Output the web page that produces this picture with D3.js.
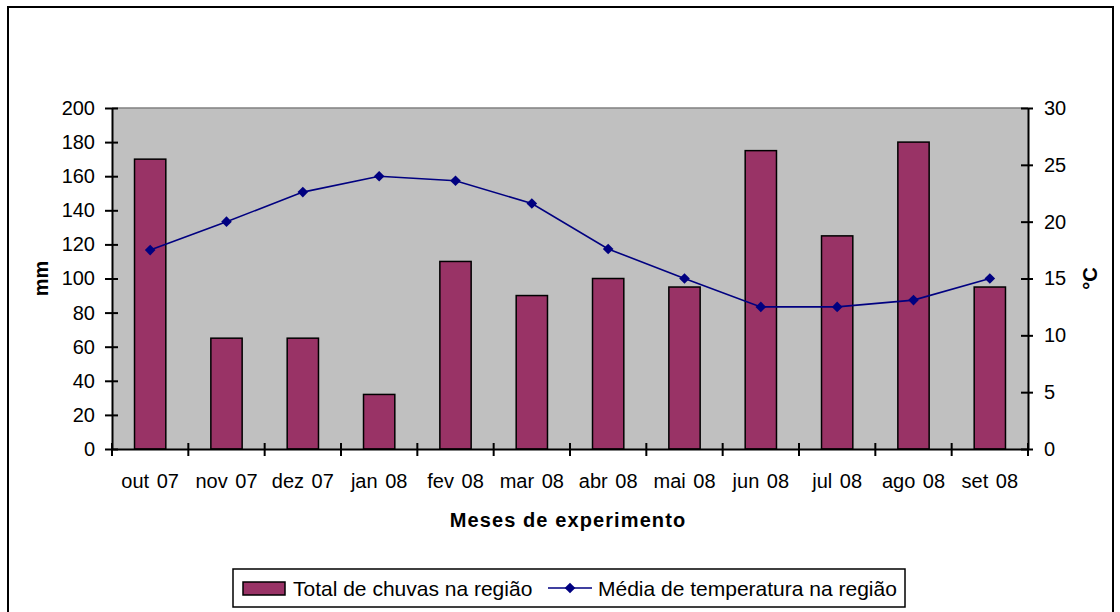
<!DOCTYPE html>
<html>
<head>
<meta charset="utf-8">
<script src="https://cdn.jsdelivr.net/npm/d3@7"></script>
<style>
  body { margin: 0; background: #fff; }
  svg { display: block; font-family: "Liberation Sans", Arial, sans-serif; }
</style>
</head>
<body>
<svg id="chart" width="1120" height="612"></svg>
<script>
const months = ["out 07", "nov 07", "dez 07", "jan 08", "fev 08", "mar 08",
  "abr 08", "mai 08", "jun 08", "jul 08", "ago 08", "set 08"];
const rainfall = [170, 65, 65, 32, 110, 90, 100, 95, 175, 125, 180, 95];
const temperature = [17.5, 20, 22.6, 24, 23.6, 21.6, 17.6, 15, 12.5, 12.5, 13.1, 15];
const mmTicks = d3.range(0, 201, 20);
const cTicks = d3.range(0, 31, 5);

const svg = d3.select("#chart");
const plot = { left: 112, right: 1028, top: 108, bottom: 449 };
const fs = 20;

// outer chart border
svg.append("rect")
  .attr("x", 8).attr("y", 7)
  .attr("width", 1105).attr("height", 640)
  .attr("fill", "#fff").attr("stroke", "#000").attr("stroke-width", 2);

const xb = d3.scaleBand().domain(months).range([plot.left, plot.right]);
const barW = xb.bandwidth() * 0.41;
const yL = d3.scaleLinear().domain([0, 200]).range([plot.bottom, plot.top]);
const yR = d3.scaleLinear().domain([0, 30]).range([plot.bottom, plot.top]);
const cx = m => xb(m) + xb.bandwidth() / 2;

svg.append("rect")
  .attr("x", plot.left).attr("y", plot.top)
  .attr("width", plot.right - plot.left).attr("height", plot.bottom - plot.top)
  .attr("fill", "#c0c0c0");
svg.append("line")
  .attr("x1", plot.left).attr("x2", plot.right)
  .attr("y1", plot.top).attr("y2", plot.top)
  .attr("stroke", "#808080").attr("stroke-width", 1.5);

// bars
svg.append("g").selectAll("rect")
  .data(rainfall)
  .join("rect")
  .attr("x", (d, i) => cx(months[i]) - barW / 2)
  .attr("y", d => yL(d))
  .attr("width", barW)
  .attr("height", d => yL(0) - yL(d))
  .attr("fill", "#993366")
  .attr("stroke", "#000")
  .attr("stroke-width", 1.5);

// temperature line
const lineGen = d3.line()
  .x((d, i) => cx(months[i]))
  .y(d => yR(d));
svg.append("path")
  .datum(temperature)
  .attr("d", lineGen)
  .attr("fill", "none")
  .attr("stroke", "#000080")
  .attr("stroke-width", 1.6);
const diamond = d3.symbol().type(d3.symbolDiamond2).size(72);
svg.append("g").selectAll("path")
  .data(temperature)
  .join("path")
  .attr("transform", (d, i) => "translate(" + cx(months[i]) + "," + yR(d) + ")")
  .attr("d", diamond)
  .attr("fill", "#000080");

// axes
function styleAxis(g) {
  g.selectAll("path.domain").attr("stroke", "#000").attr("stroke-width", 2);
  g.selectAll(".tick line").attr("stroke", "#000").attr("stroke-width", 2);
  g.selectAll("text").attr("font-size", fs).attr("fill", "#000")
    .attr("font-family", "'Liberation Sans', Arial, sans-serif");
}

const gl = svg.append("g").attr("transform", "translate(" + plot.left + ",0)")
  .call(d3.axisLeft(yL).tickValues(mmTicks).tickSizeInner(7).tickSizeOuter(0).tickPadding(10));
gl.selectAll(".tick line").attr("x2", -7).attr("x1", 6);
styleAxis(gl);

const gr = svg.append("g").attr("transform", "translate(" + plot.right + ",0)")
  .call(d3.axisRight(yR).tickValues(cTicks).tickSizeInner(5).tickSizeOuter(0).tickPadding(11));
gr.selectAll(".tick line").attr("x1", -7).attr("x2", 5);
styleAxis(gr);

const gb = svg.append("g").attr("transform", "translate(0," + plot.bottom + ")")
  .call(d3.axisBottom(xb).tickSize(0).tickPadding(25));
styleAxis(gb);
gb.selectAll(".tick line").remove();
gb.selectAll("text").attr("word-spacing", 2);
// category boundary ticks
svg.append("g").selectAll("line")
  .data(months.concat(["end"]))
  .join("line")
  .attr("x1", (d, i) => i < months.length ? xb(d) : plot.right)
  .attr("x2", (d, i) => i < months.length ? xb(d) : plot.right)
  .attr("y1", plot.bottom - 6).attr("y2", plot.bottom + 7)
  .attr("stroke", "#000").attr("stroke-width", 2);

// axis titles
svg.append("text")
  .attr("transform", "translate(48," + (plot.top + plot.bottom) / 2 + ") rotate(-90)")
  .attr("text-anchor", "middle")
  .attr("font-size", fs).attr("font-weight", "bold")
  .text("mm");
svg.append("text")
  .attr("transform", "translate(1097," + (plot.top + plot.bottom) / 2 + ") rotate(-90)")
  .attr("text-anchor", "middle")
  .attr("font-size", fs).attr("font-weight", "bold")
  .text("°C");
svg.append("text")
  .attr("x", 568).attr("y", 527)
  .attr("text-anchor", "middle")
  .attr("font-size", fs).attr("font-weight", "bold")
  .attr("letter-spacing", 1.1)
  .text("Meses de experimento");

// legend
const lg = svg.append("g");
lg.append("rect")
  .attr("x", 233).attr("y", 569).attr("width", 672).attr("height", 38)
  .attr("fill", "#fff").attr("stroke", "#000").attr("stroke-width", 1.5);
lg.append("rect")
  .attr("x", 243).attr("y", 582).attr("width", 42).attr("height", 13)
  .attr("fill", "#993366").attr("stroke", "#000").attr("stroke-width", 1.5);
lg.append("text")
  .attr("x", 293).attr("y", 596).attr("font-size", 21)
  .text("Total de chuvas na região");
lg.append("line")
  .attr("x1", 548).attr("x2", 592).attr("y1", 588).attr("y2", 588)
  .attr("stroke", "#000080").attr("stroke-width", 1.6);
lg.append("path")
  .attr("transform", "translate(570,588)")
  .attr("d", diamond)
  .attr("fill", "#000080");
lg.append("text")
  .attr("x", 598).attr("y", 596).attr("font-size", 21)
  .text("Média de temperatura na região");
</script>
</body>
</html>
